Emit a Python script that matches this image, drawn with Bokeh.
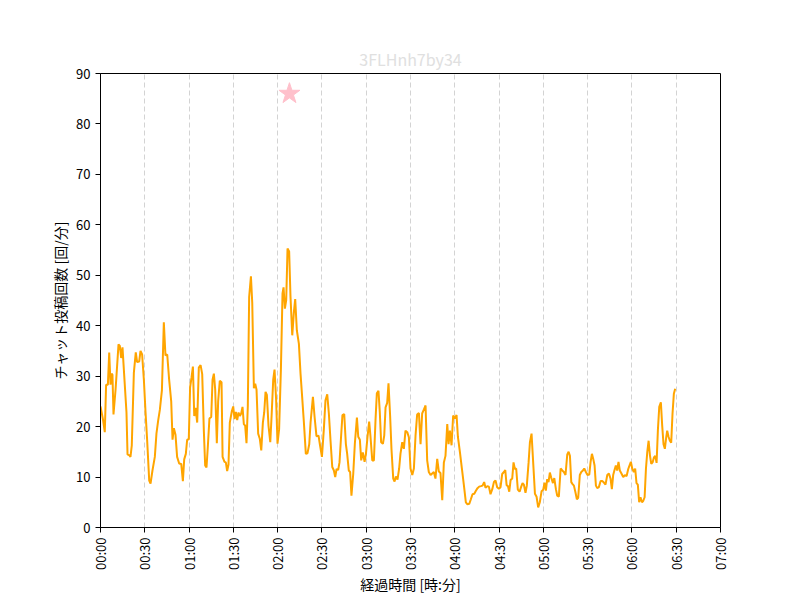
from math import pi
from bokeh.plotting import figure
from bokeh.models import Range1d, FixedTicker, Title
from bokeh.embed import file_html
from bokeh.resources import INLINE

# elapsed minutes since start and chat posts per minute
minutes = [
    0, 1.8, 2.9, 3.8, 5.0, 5.9, 6.8, 7.5, 8.1, 8.8, 10.2, 12.2, 13.1, 14.0, 14.9, 15.8,
    17.6, 18.3, 19.6, 20.3, 21.2, 22.6, 23.9, 24.8, 26.2, 27.1, 28.2, 29.4, 30.5, 31.6,
    33.0, 33.9, 35.2, 36.8, 37.9, 39.1, 40.2, 41.6, 42.9, 44.0, 45.2, 46.5, 47.9, 48.8,
    49.7, 50.8, 51.9, 53.3, 54.7, 55.8, 56.7, 57.8, 58.7, 59.8, 60.7, 61.7, 62.6, 63.5,
    64.4, 65.5, 66.6, 67.8, 68.9, 70.0, 70.9, 71.8, 72.7, 73.8, 75.0, 75.9, 76.8, 77.7,
    78.8, 79.7, 80.8, 82.0, 82.7, 84.0, 84.9, 85.8, 86.7, 87.6, 89.0, 89.9, 90.8, 91.7,
    92.6, 93.5, 94.4, 95.3, 96.2, 97.1, 98.0, 98.9, 99.8, 100.7, 101.9, 102.8, 103.9,
    104.8, 105.7, 106.8, 107.9, 108.9, 110.0, 110.9, 111.8, 112.7, 113.8, 115.0, 115.9,
    117.0, 117.9, 119.0, 119.9, 121.0, 122.2, 123.3, 124.0, 124.9, 125.8, 126.7, 127.8,
    128.7, 129.9, 131.0, 131.9, 133.0, 134.4, 135.5, 136.6, 137.7, 139.1, 140.2, 141.4,
    142.3, 143.9, 145.0, 146.3, 147.7, 148.6, 150.0,
    151.3, 152.4, 153.6, 154.7, 155.8, 157.0, 158.1, 159.0, 159.9, 161.0, 161.9, 163.0,
    163.9, 165.1, 166.2, 167.1, 168.2, 169.1, 170.0, 171.2, 172.3, 173.7, 174.6, 175.7,
    176.6, 177.7, 178.9, 179.8, 180.9, 182.0, 182.9, 184.1, 185.2, 186.3, 187.2, 188.3,
    189.2, 190.1, 191.3, 192.2, 193.1, 194.2, 195.1, 196.2, 197.1, 198.3, 199.2, 200.1,
    201.2, 202.3, 203.2, 204.4, 205.5, 206.6, 207.8, 208.9, 210.0, 211.2, 212.3, 213.4,
    214.5, 215.7, 216.8, 217.9, 219.1, 220.2, 221.3, 222.4, 223.6, 224.7, 225.8, 226.9,
    228.1, 229.2, 230.3, 231.5, 232.6, 233.7, 234.9, 235.8, 236.7, 237.8, 238.9, 240.1,
    241.2, 242.1, 243.5, 244.8, 246.2, 247.5, 248.6, 249.8, 250.9, 252.0, 253.2, 254.3,
    255.4, 256.5, 257.7, 258.8, 259.9, 260.8, 262.0, 263.1, 264.2, 265.4, 266.5, 267.6,
    268.7, 269.9,
    271.0, 272.1, 273.3, 274.2, 275.1, 276.0, 276.9, 277.8, 278.9, 279.8, 280.7, 281.6,
    282.7, 283.9, 285.0, 285.9, 286.8, 287.9, 288.8, 290.0, 290.9, 292.0, 293.1, 294.3,
    295.4, 296.5, 297.6, 298.8, 299.9, 300.8, 301.7, 302.6, 303.5, 304.4, 305.3, 306.5,
    307.4, 308.5, 309.4, 310.5, 311.7, 312.8, 313.9, 315.0, 316.2, 317.1, 318.0, 318.9,
    319.8, 320.7, 321.8, 322.7, 323.6, 324.7, 325.7, 326.8, 327.7, 328.8, 329.9, 331.1,
    332.0, 332.9, 333.8, 334.7, 335.6, 336.5, 337.6, 338.8, 339.9, 341.0, 342.1, 343.3,
    344.4, 345.5, 346.4, 347.3, 348.2, 349.1, 350.0, 350.9, 351.8, 352.9, 354.1, 355.2,
    356.4, 357.5, 358.4, 359.3, 360.2, 361.3, 362.2, 363.1, 364.0, 364.9, 365.8, 366.8,
    367.7, 368.6, 369.5, 370.4, 371.3, 372.2, 373.1, 374.0, 374.9, 375.8, 376.7, 377.6,
    378.5, 379.6, 380.5, 381.4, 382.3, 383.2, 383.9, 384.8, 385.7, 386.6, 387.5, 388.4,
    389.3,
]
counts = [
    24, 21.2, 18.9, 28.3, 28.3, 34.7, 28.3, 30.5, 30.3, 22.4, 27.3, 36.3, 36.0, 33.6, 35.7, 31.4,
    22.8, 14.5, 14.3, 14.0, 16.3, 30.7, 34.7, 32.8, 32.9, 35.0, 34.3, 29.2, 22.9, 17.3,
    9.3, 8.7, 11.3, 14.0, 18.6, 21.3, 23.3, 27.2, 40.7, 34.1, 34.3, 29.3, 25.0, 17.4,
    19.7, 18.4, 14.0, 12.7, 12.6, 9.2, 13.5, 14.6, 17.4, 17.5, 27.8, 29.8, 31.9, 22.1,
    23.7, 20.8, 31.7, 32.2, 30.4, 19.2, 12.3, 11.9, 16.0, 21.6, 21.9, 29.3, 30.5, 27.3,
    16.7, 25.0, 29.1, 28.8, 14.0, 13.0, 12.9, 11.2, 12.5, 20.8, 23.1, 24.0, 21.5, 22.9,
    21.3, 22.8, 22.1, 22.6, 23.9, 20.5, 20.2, 16.7, 24.1, 45.7, 49.8, 44.5, 27.6,
    28.5, 27.3, 18.6, 17.6, 15.3, 20.8, 22.8, 26.9, 26.3, 20.2, 16.9, 22.1,
    29.3, 31.3, 25.1, 16.6, 19.5, 31.3, 46.4, 47.6, 43.4, 45.1, 55.3, 54.7,
    45.8, 38.1, 42.7, 45.3, 39.1, 36.4, 30.5, 25.9, 21.2, 14.6, 14.7, 16.5,
    20.8, 25.9, 22.0, 18.1, 18.2, 16.5, 14.0,
    19.5, 25.2, 26.4, 22.6, 17.3, 12.0, 11.3, 10.0, 11.6, 11.4, 12.9, 18.2,
    22.3, 22.5, 16.6, 14.6, 11.3, 11.0, 6.3, 10.6, 16.6, 21.8, 18.0, 17.4,
    13.3, 14.9, 13.0, 14.6, 18.0, 21.0, 18.0, 13.3, 13.3, 21.3, 26.6, 27.1,
    22.9, 16.9, 16.6, 18.2, 23.8, 24.7, 28.6, 22.1, 15.6, 9.7, 9.1, 10.1,
    9.5, 11.7, 14.6, 16.9, 15.6, 19.2, 18.9, 17.9, 11.7, 10.4, 11.7, 18.2,
    22.4, 22.7, 16.5, 22.6, 23.4, 24.2, 13.3, 11.0, 10.4, 10.7, 11.0, 9.7,
    13.6, 11.1, 10.8, 5.4, 12.9, 14.2, 20.5, 16.5, 19.2, 16.3, 22.2, 21.6,
    22.3, 18.0, 14.9, 11.7, 8.3, 5.0, 4.6, 4.7, 5.6, 6.6, 6.7, 7.3,
    7.8, 8.1, 8.2, 8.3, 9.0, 7.9, 8.2, 8.1, 6.6, 7.6, 9.0, 9.3,
    8.0, 7.7,
    8.0, 10.6, 11.0, 11.4, 8.4, 8.2, 7.1, 9.4, 9.7, 12.9, 11.6, 11.7,
    7.5, 7.1, 8.1, 8.8, 8.5, 6.9, 8.3, 12.9, 16.9, 18.6, 12.9, 6.7,
    6.1, 4.0, 5.0, 7.2, 7.5, 8.9, 7.3, 9.6, 9.0, 10.9, 9.9, 8.8,
    9.8, 7.6, 6.3, 6.1, 11.7, 11.3, 11.0, 10.4, 14.5, 15.0, 14.2, 9.0,
    8.6, 8.3, 6.9, 5.6, 5.9, 10.4, 11.0, 11.3, 11.7, 11.0, 10.4, 10.5,
    13.0, 14.6, 13.6, 12.3, 8.3, 7.8, 8.0, 9.2, 9.2, 8.9, 8.5, 10.4,
    10.7, 9.7, 7.6, 10.4, 11.4, 12.3, 11.3, 13.0, 11.3, 10.7, 10.0, 10.4,
    10.2, 11.6, 12.3, 13.0, 11.7, 11.0, 11.7, 8.8, 8.5, 5.0, 6.0, 5.0,
    5.3, 6.0, 11.7, 15.0, 17.2, 14.3, 12.6, 12.9, 13.9, 14.2, 12.8, 19.4,
    23.9, 24.8, 20.2, 16.5, 15.6, 17.8, 19.2, 18.0, 17.2, 16.8, 22.6, 26.5,
    27.5,
]

# star marker
star_minute = [128]
star_value = [86]

tick_minutes = [0, 30, 60, 90, 120, 150, 180, 210, 240, 270, 300, 330, 360, 390, 420]
tick_labels = ["00:00", "00:30", "01:00", "01:30", "02:00", "02:30", "03:00", "03:30",
               "04:00", "04:30", "05:00", "05:30", "06:00", "06:30", "07:00"]
y_ticks = [0, 10, 20, 30, 40, 50, 60, 70, 80, 90]

title_text = "3FLHnh7by34"
x_label = "経過時間 [時:分]"
y_label = "チャット投稿回数 [回/分]"

FONT = "Noto Sans CJK JP"

p = figure(width=800, height=600, output_backend="svg", toolbar_location=None,
           x_range=Range1d(0, 420), y_range=Range1d(0, 90))
p.min_border_left = 100
p.min_border_right = 80
p.min_border_top = 73
p.min_border_bottom = 73

p.title = Title(text=title_text, align="center", text_color="#e0e0e0",
                text_font=FONT, text_font_size="16px", text_font_style="normal",
                standoff=6)

p.background_fill_color = "white"
p.border_fill_color = "white"
p.outline_line_color = "black"
p.outline_line_width = 1
p.outline_line_alpha = 1

p.line(minutes, counts, line_color="#ffa500", line_width=2)
p.scatter(star_minute, star_value, marker="star", size=22, fill_color="#ffc0cb",
          line_color="#ffc0cb")

xa = p.xaxis[0]
xa.ticker = FixedTicker(ticks=tick_minutes)
xa.major_label_overrides = {t: l for t, l in zip(tick_minutes, tick_labels)}
xa.major_label_orientation = pi / 2
ya = p.yaxis[0]
ya.ticker = FixedTicker(ticks=y_ticks)

for ax in (xa, ya):
    ax.axis_line_color = "black"
    ax.major_tick_line_color = "black"
    ax.major_tick_in = 0
    ax.major_tick_out = 5
    ax.minor_tick_line_color = None
    ax.major_label_text_font = FONT
    ax.major_label_text_font_size = "13px"
    ax.major_label_text_color = "black"
    ax.major_label_standoff = 5
    ax.axis_label_text_font = FONT
    ax.axis_label_text_font_size = "14px"
    ax.axis_label_text_font_style = "normal"
    ax.axis_label_text_color = "black"
xa.axis_label = x_label
ya.axis_label = y_label
xa.axis_label_standoff = 1
ya.axis_label_standoff = 3

p.xgrid.grid_line_color = "#d3d3d3"
p.xgrid.grid_line_dash = "5 3"
p.xgrid.grid_line_width = 1
p.xgrid.ticker = FixedTicker(ticks=tick_minutes)
p.ygrid.grid_line_color = None

open("out.html", "w").write(file_html(p, INLINE))
